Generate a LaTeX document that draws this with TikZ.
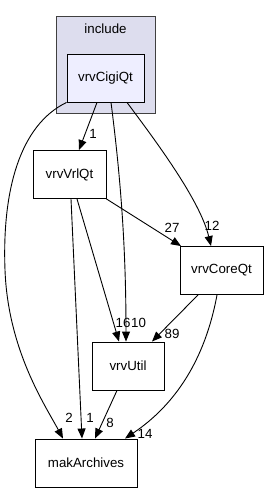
\documentclass[tikz,border=0pt]{standalone}
\usepackage{fontspec}
\setmainfont{Liberation Sans}
\usetikzlibrary{arrows.meta,calc}
\definecolor{clusterfill}{HTML}{DDDDEE}
\definecolor{nodefill}{HTML}{EEEEFF}
\definecolor{clusterline}{HTML}{404040}
\begin{document}
\begin{tikzpicture}[x=1pt,y=-1pt,
  dirbox/.style={draw=black, line width=0.9pt, minimum height=48pt, inner sep=0pt, font=\fontsize{13.3}{15}\selectfont},
  edge/.style={draw=black, line width=0.9pt, -{Triangle[length=10pt,width=8pt]}},
  lbl/.style={font=\fontsize{13.3}{15}\selectfont, inner sep=0pt}]
\useasboundingbox (0,0) rectangle (268,492);
\node[draw=clusterline, fill=clusterfill, line width=0.9pt, minimum width=99pt, minimum height=97pt, inner sep=0pt, anchor=north west] (inc) at (56,16) {};
\node[lbl] (inclbl) at (105.5,29) {include};
\node[dirbox, fill=nodefill, minimum width=77pt] (cigi) at (105.5,78) {vrvCigiQt};
\node[dirbox, fill=white, minimum width=73pt] (vrl) at (69.5,174.5) {vrvVrlQt};
\node[dirbox, fill=white, minimum width=83pt] (core) at (221.5,270.5) {vrvCoreQt};
\node[dirbox, fill=white, minimum width=72pt] (util) at (128,366) {vrvUtil};
\node[dirbox, fill=white, minimum width=102pt] (mak) at (86,463) {makArchives};

\draw[edge] ([xshift=-8.5pt]cigi.south) -- ([xshift=9.5pt]vrl.north);
\node[lbl] (l1) at (93,134) {1};
\draw[edge] (cigi.south west) .. controls (20,125) and (2,190) .. (5,270) .. controls (8,350) and (45,405) .. ([xshift=-23pt]mak.north);
\node[lbl] (l2) at (69,418) {2};
\draw[edge] ([xshift=5.5pt]cigi.south) .. controls (121,180) and (126,250) .. ([xshift=-2pt]util.north);
\node[lbl] (l10) at (138.5,323) {10};
\draw[edge] ([xshift=21.5pt]cigi.south) .. controls (155,140) and (200,200) .. ([xshift=-10.5pt]core.north);
\node[lbl] (l12) at (212,226) {12};
\draw[edge] (vrl.south east) -- ([xshift=-40.5pt]core.north);
\node[lbl] (l27) at (172,228) {27};
\draw[edge] ([xshift=7.5pt]vrl.south) -- ([xshift=-9pt]util.north);
\node[lbl] (l16) at (123,323) {16};
\draw[edge] ([xshift=1.5pt]vrl.south) -- ([xshift=-4pt]mak.north);
\node[lbl] (l1b) at (90,418) {1};
\draw[edge] ([xshift=-23.5pt]core.south) -- ([xshift=24pt]util.north);
\node[lbl] (l89) at (172,334) {89};
\draw[edge] ([xshift=-4.5pt]core.south) .. controls (205,360) and (175,405) .. ([xshift=39pt]mak.north);
\node[lbl] (l14) at (145,434) {14};
\draw[edge] ([xshift=-11pt]util.south) -- ([xshift=9pt]mak.north);
\node[lbl] (l8) at (110,423) {8};
\end{tikzpicture}
\end{document}
